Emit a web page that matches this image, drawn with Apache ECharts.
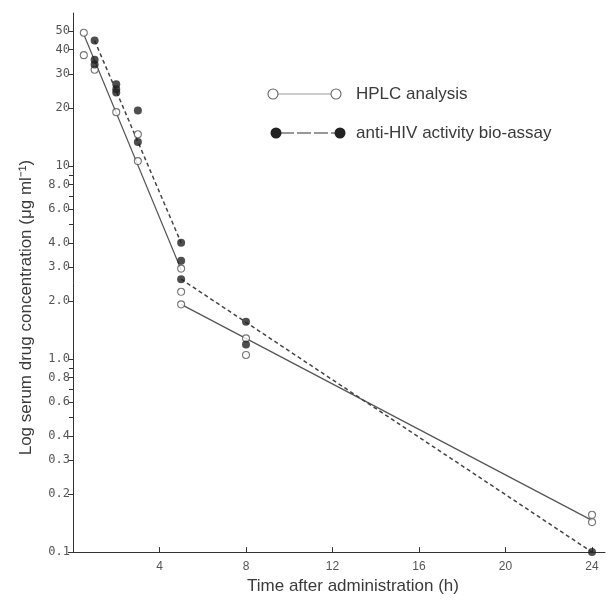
<!DOCTYPE html>
<html>
<head>
<meta charset="utf-8">
<script src="https://cdn.jsdelivr.net/npm/echarts@6/dist/echarts.min.js"></script>
<style>
  html, body { margin: 0; padding: 0; background: #fff; }
  #main { width: 608px; height: 600px; }
</style>
</head>
<body>
<div id="main"></div>
<script>
// time (h), concentration (ug/ml)
var hplcPoints = [
  [0.5, 49], [0.5, 37.5], [1, 31.5], [2, 19], [3, 14.6], [3, 10.6],
  [5, 2.94], [5, 2.23], [5, 1.92], [8, 1.28], [8, 1.05], [24, 0.156], [24, 0.143]
];
var bioPoints = [
  [1, 44.6], [1, 35.5], [1, 33.5], [2, 26.5], [2, 25], [2, 24], [3, 19.4], [3, 13.3],
  [5, 4.0], [5, 3.23], [5, 2.59], [8, 1.56], [8, 1.19], [24, 0.1]
];
// fitted lines (two phases each)
var hplcFitA = [[0.5, 48], [5, 2.9]];
var hplcFitB = [[5, 1.92], [24, 0.146]];
var bioFitA = [[1, 44.6], [5, 4.0]];
var bioFitB = [[5, 2.59], [24, 0.1]];

var xTicks = [4, 8, 12, 16, 20, 24];
var yTicks = [0.1, 0.2, 0.3, 0.4, 0.6, 0.8, 1, 2, 3, 4, 6, 8, 10, 20, 30, 40, 50];
var yTickLabels = ['0.1', '0.2', '0.3', '0.4', '0.6', '0.8', '1.0', '2.0', '3.0', '4.0', '6.0', '8.0', '10', '20', '30', '40', '50'];
var yMinorTicks = [0.5, 0.7, 0.9, 5, 7, 9];

function toLog(arr) {
  return arr.map(function (p) { return [p[0], Math.log10(p[1])]; });
}

var chart = echarts.init(document.getElementById('main'));
var font = "'Liberation Sans', Arial, sans-serif";

var option = {
  animation: false,
  grid: { left: 73, right: 3, top: 13, bottom: 46 },
  xAxis: {
    type: 'value',
    min: 0,
    max: 24.6,
    name: 'Time after administration (h)',
    nameLocation: 'middle',
    nameGap: 24,
    nameTextStyle: { fontFamily: font, fontSize: 17, color: '#3a3a3a', padding: [0, 0, 0, 28] },
    axisLine: { onZero: false, lineStyle: { color: '#333', width: 1 } },
    axisTick: { inside: true, length: 5, customValues: xTicks, lineStyle: { color: '#333' } },
    axisLabel: { customValues: xTicks, fontFamily: font, fontSize: 12, color: '#555', margin: 9 },
    splitLine: { show: false }
  },
  yAxis: [{
    type: 'value',
    min: -1,
    max: Math.log10(62),
    name: 'Log serum drug concentration (\u03bcg ml\u207b\u00b9)',
    nameLocation: 'middle',
    nameGap: 38,
    nameTextStyle: { fontFamily: font, fontSize: 17, color: '#3a3a3a', padding: [0, 50, 0, 0] },
    axisLine: { show: true, onZero: false, lineStyle: { color: '#333', width: 1 } },
    axisTick: { length: 5, customValues: yTicks.map(Math.log10), lineStyle: { color: '#333' } },
    axisLabel: {
      customValues: yTicks.map(Math.log10),
      fontFamily: "'DejaVu Sans Mono', monospace",
      fontSize: 12,
      color: '#555',
      margin: 3,
      formatter: function (v) {
        var best = 0;
        for (var i = 0; i < yTicks.length; i++) {
          if (Math.abs(Math.log10(yTicks[i]) - v) < Math.abs(Math.log10(yTicks[best]) - v)) best = i;
        }
        return yTickLabels[best];
      }
    },
    splitLine: { show: false }
  }, {
    type: 'value',
    min: -1,
    max: Math.log10(62),
    position: 'left',
    axisLine: { show: false, onZero: false },
    axisTick: { show: true, length: 4, customValues: yMinorTicks.map(Math.log10), lineStyle: { color: '#333' } },
    axisLabel: { show: false },
    splitLine: { show: false }
  }],
  series: [
    {
      type: 'line', data: toLog(hplcFitA), symbol: 'none', clip: false,
      lineStyle: { color: '#555', width: 1.2, type: 'solid' }
    },
    {
      type: 'line', data: toLog(hplcFitB), symbol: 'none', clip: false,
      lineStyle: { color: '#555', width: 1.2, type: 'solid' }
    },
    {
      type: 'line', data: toLog(bioFitA), symbol: 'none', clip: false,
      lineStyle: { color: '#444', width: 1.5, type: [4, 3] }
    },
    {
      type: 'line', data: toLog(bioFitB), symbol: 'none', clip: false,
      lineStyle: { color: '#444', width: 1.5, type: [4, 3] }
    },
    {
      name: 'HPLC analysis', type: 'scatter', data: toLog(hplcPoints), symbol: 'circle', symbolSize: 7, clip: false,
      itemStyle: { color: '#fff', borderColor: '#555', borderWidth: 1.1 }, z: 5
    },
    {
      name: 'anti-HIV activity bio-assay', type: 'scatter', data: toLog(bioPoints), symbol: 'circle', symbolSize: 8, clip: false,
      itemStyle: { color: '#222' }, z: 6
    }
  ],
  graphic: [
    { type: 'line', shape: { x1: 278, y1: 94, x2: 331, y2: 94 }, style: { stroke: '#999', lineWidth: 1 } },
    { type: 'circle', shape: { cx: 273, cy: 94, r: 5 }, style: { fill: '#fff', stroke: '#666', lineWidth: 1.1 } },
    { type: 'circle', shape: { cx: 336, cy: 94, r: 5 }, style: { fill: '#fff', stroke: '#666', lineWidth: 1.1 } },
    { type: 'text', x: 356, y: 94, style: { text: 'HPLC analysis', font: '17px ' + font, fill: '#3a3a3a', verticalAlign: 'middle' } },
    { type: 'line', shape: { x1: 280, y1: 133, x2: 336, y2: 133 }, style: { stroke: '#333', lineWidth: 1.2, lineDash: [14, 3] } },
    { type: 'circle', shape: { cx: 276, cy: 133, r: 5.5 }, style: { fill: '#222' } },
    { type: 'circle', shape: { cx: 340, cy: 133, r: 5.5 }, style: { fill: '#222' } },
    { type: 'text', x: 356, y: 133, style: { text: 'anti-HIV activity bio-assay', font: '17px ' + font, fill: '#3a3a3a', verticalAlign: 'middle' } }
  ]
};
chart.setOption(option);
</script>
</body>
</html>
